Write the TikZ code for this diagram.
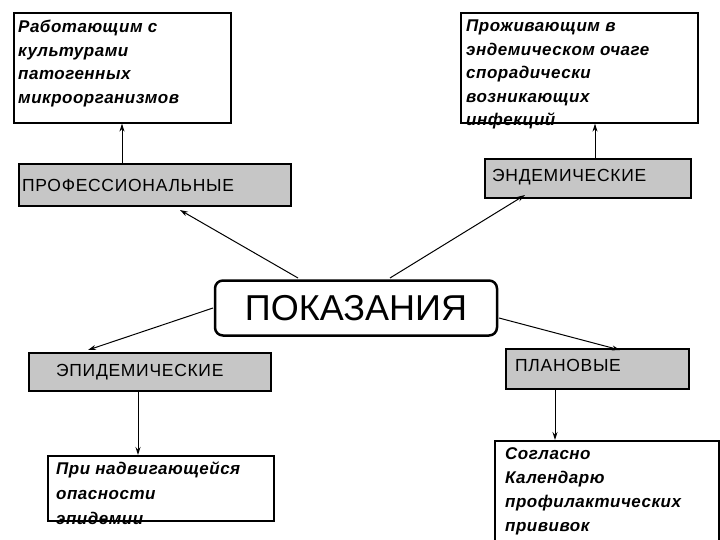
\documentclass[tikz,border=0pt]{standalone}
\usepackage{fontspec}
\setmainfont{Liberation Sans}
\usetikzlibrary{arrows.meta}
\begin{document}
\begin{tikzpicture}[x=1pt,y=-1pt,
  txtbox/.style={draw,line width=1.6pt,fill=white,anchor=north west},
  itx/.style={anchor=north west,align=left,inner sep=0pt,font=\bfseries\itshape\fontsize{17}{23.5}\selectfont\addfontfeature{LetterSpace=3}},
  catbox/.style={draw,line width=1.8pt,fill=gray!45,anchor=north west},
  cattx/.style={anchor=west,inner sep=0pt,font=\fontsize{17.5}{20}\selectfont\addfontfeature{LetterSpace=4}},
  arr/.style={-{Stealth[length=8pt,width=5pt]},line width=1pt}]
\useasboundingbox (0,0) rectangle (720,540);
\node[txtbox,minimum width=217pt,minimum height=110pt] (tl) at (13,12) {};
\node[itx] (tlt) at (18,20) {Работающим с\\культурами\\патогенных\\микроорганизмов};
\node[txtbox,minimum width=237pt,minimum height=110pt] (tr) at (460,12) {};
\node[itx] (trt) at (466,20) {Проживающим в\\эндемическом очаге\\спорадически\\возникающих\\инфекций};
\node[catbox,minimum width=272pt,minimum height=42pt] (prof) at (18,163) {};
\node[cattx] (proft) at (22,185) {ПРОФЕССИОНАЛЬНЫЕ};
\node[catbox,minimum width=206pt,minimum height=39pt] (end) at (484,158) {};
\node[cattx] (endt) at (492,177) {ЭНДЕМИЧЕСКИЕ};
\node[draw,line width=2.5pt,rounded corners=8pt,fill=white,minimum width=282pt,minimum height=55pt,font=\fontsize{36}{38}\selectfont] (pok) at (356,308) {ПОКАЗАНИЯ};
\node[catbox,minimum width=242pt,minimum height=38pt] (epi) at (28,352) {};
\node[cattx] (epit) at (56,372) {ЭПИДЕМИЧЕСКИЕ};
\node[catbox,minimum width=183pt,minimum height=40pt] (plan) at (505,348) {};
\node[cattx] (plant) at (515,365) {ПЛАНОВЫЕ};
\node[txtbox,minimum width=226pt,minimum height=65pt] (bl) at (47,455) {};
\node[itx,font=\bfseries\itshape\fontsize{17}{25}\selectfont\addfontfeature{LetterSpace=3}] (blt) at (56,462) {При надвигающейся\\опасности\\эпидемии};
\node[txtbox,minimum width=224pt,minimum height=105pt] (br) at (494,440) {};
\node[itx,font=\bfseries\itshape\fontsize{17}{24}\selectfont\addfontfeature{LetterSpace=3}] (brt) at (505,447) {Согласно\\Календарю\\профилактических\\прививок};
\coordinate (p1) at (298,278); \coordinate (p2) at (390,278);
\coordinate (p3) at (213,308); \coordinate (p4) at (499,318);
\coordinate (a1) at (180,210); \coordinate (a2) at (525,195);
\coordinate (a3) at (88,350); \coordinate (a4) at (620,350);
\draw[arr] (p1) -- (a1);
\draw[arr] (p2) -- (a2);
\draw[arr] (p3) -- (a3);
\draw[arr] (p4) -- (a4);
\draw[arr] (prof.north west -| 122,0) -- (tl.south west -| 122,0);
\draw[arr] (end.north west -| 595,0) -- (tr.south west -| 595,0);
\draw[arr] (epi.south west -| 138,0) -- (bl.north west -| 138,0);
\draw[arr] (plan.south west -| 555,0) -- (br.north west -| 555,0);
\end{tikzpicture}
\end{document}
